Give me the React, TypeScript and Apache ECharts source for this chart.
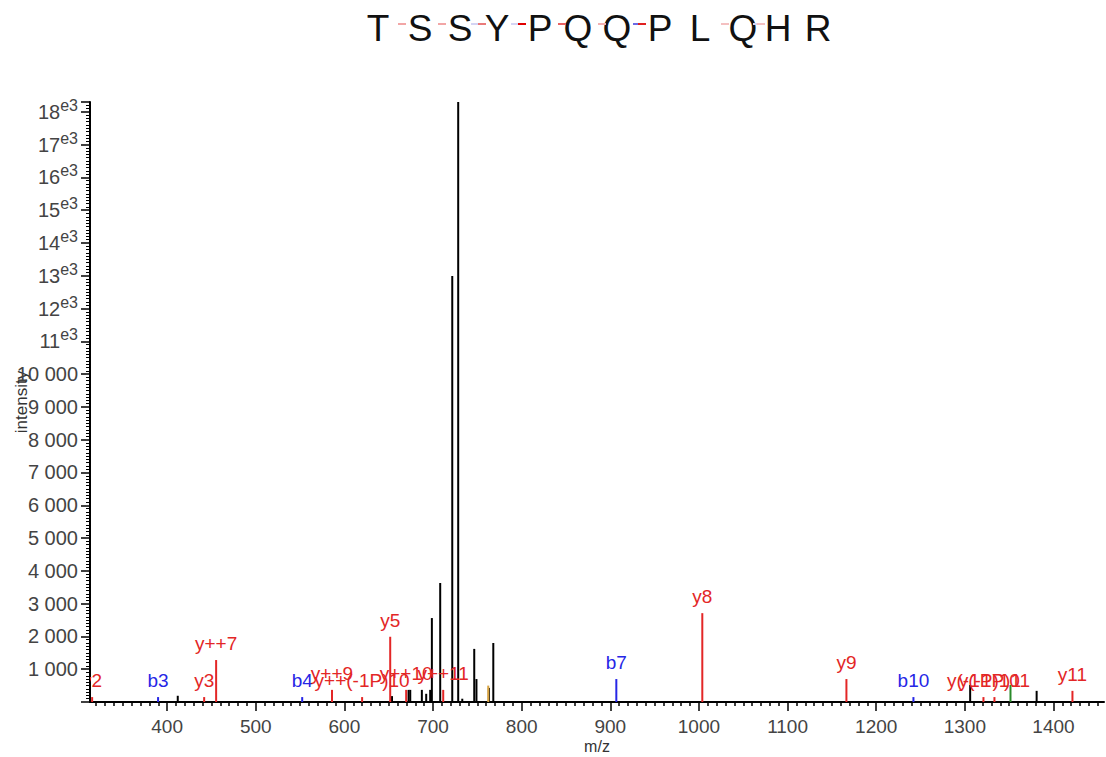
import React, { useEffect, useRef } from "react";
import * as echarts from "echarts";

// ---- data (m/z, intensity) ----
const unlabeledMz = [412, 653.7, 672.4, 674.3, 687.4, 692.3, 696.8, 698.7, 708.1, 721.7, 728.4, 733, 746.5, 749, 763, 768, 1306, 1381];
const unlabeledInt = [190, 180, 370, 370, 370, 250, 370, 2560, 3630, 12990, 18300, 100, 1620, 700, 430, 1800, 520, 340];

const yIonLabels = ["y2", "y3", "y++7", "y++9", "y++(-1P)10", "y5", "y++10", "y++11", "y8", "y9", "y(-1P)10", "y(-1P)11", "y11"];
const yIonMz = [315.4, 441.8, 455.3, 586, 620, 651.7, 669.7, 711.5, 1003.8, 1166.4, 1321, 1333.4, 1421.4];
const yIonInt = [150, 150, 1280, 370, 150, 1990, 370, 370, 2710, 700, 150, 150, 340];

const bIonLabels = ["b3", "b4", "b7", "b10"];
const bIonMz = [389.8, 552.4, 906.8, 1242];
const bIonInt = [150, 150, 700, 150];

const greenMz = [1351.5];
const greenInt = [520];
const orangeMz = [762.3];
const orangeInt = [500];

const sequence = ["T", "S", "S", "Y", "P", "Q", "Q", "P", "L", "Q", "H", "R"];

// axis ticks
const X_MIN = 313;
const X_MAX = 1457;
const xMajorTicks = [400, 500, 600, 700, 800, 900, 1000, 1100, 1200, 1300, 1400];
const xMinorTicks: number[] = [];
for (let v = 320; v < X_MAX; v += 10) if (v % 100 !== 0) xMinorTicks.push(v);

const FONT = "'Liberation Sans', Arial, sans-serif";
const RED = "#e32626";
const BLUE = "#2626e6";
const GREEN = "#2a8a2a";
const ORANGE = "#d9a441";

function fmtThousands(v: number): string {
  const s = String(v);
  return s.replace(/\B(?=(\d{3})+(?!\d))/g, " ");
}

function makeSeries(mz: number[], inten: number[], color: string, labels: string[] | null) {
  return {
    type: "custom",
    clip: true,
    xAxisIndex: 0,
    data: mz.map((m, i) => [m, inten[i]]),
    renderItem: (params: any, api: any) => {
      const x = api.value(0);
      const y = api.value(1);
      const top = api.coord([x, y]);
      const base = api.coord([x, 0]);
      const children: any[] = [
        {
          type: "line",
          shape: { x1: top[0], y1: top[1], x2: base[0], y2: base[1] },
          style: { stroke: color, lineWidth: 2 },
        },
      ];
      if (labels) {
        children.push({
          type: "text",
          x: top[0],
          y: top[1] - 7,
          style: {
            text: labels[params.dataIndex],
            fill: color,
            fontSize: 19,
            fontFamily: FONT,
            align: "center",
            verticalAlign: "bottom",
          },
        });
      }
      return { type: "group", children };
    },
  };
}

// title letter centres and separator marks
const letterX = [378, 420, 460, 497, 540, 578, 617, 660, 700, 743, 778, 818];
const markX = [402, 442, 475, 482, 515, 522, 562, 602, 637, 642, 725, 757, 761];
const markColor = ["#f2a6a6", "#f2a6a6", "#d4d4f4", "#ea7a7a", "#d4d4f4", "#e00000", "#e86060", "#f2b0b0", "#6a6ae6", "#e02020", "#f4c0c0", "#d4d4f4", "#f4c0c0"];

export default function App() {
  const ref = useRef<HTMLDivElement>(null);
  useEffect(() => {
    document.body.style.margin = "0";
    if (!ref.current) return;
    const chart = echarts.init(ref.current, null, { renderer: "svg" });
    const graphics: any[] = [];
    sequence.forEach((ch, i) => {
      graphics.push({
        type: "text",
        x: letterX[i],
        y: 28,
        style: {
          text: ch,
          fill: "#111",
          fontSize: 37,
          fontFamily: FONT,
          align: "center",
          verticalAlign: "middle",
        },
      });
    });
    markX.forEach((mx, i) => {
      graphics.push({
        type: "line",
        shape: { x1: mx - 4, y1: 24, x2: mx + 4, y2: 24 },
        style: { stroke: markColor[i], lineWidth: 2 },
      });
    });
    const tickStyle = { color: "#000", width: 1.5 };
    chart.setOption({
      animation: false,
      backgroundColor: "#fff",
      graphic: graphics,
      grid: { left: 90, right: 2, top: 102, bottom: 55, containLabel: false, outerBoundsMode: "none" },
      xAxis: [
        {
          type: "value",
          min: X_MIN,
          max: X_MAX,
          name: "m/z",
          nameLocation: "middle",
          nameGap: 36,
          nameMoveOverlap: false,
          nameTextStyle: { color: "#333", fontSize: 16, fontFamily: FONT },
          splitLine: { show: false },
          axisLine: { show: true, onZero: false, lineStyle: { color: "#000", width: 2 } },
          axisTick: { show: true, length: 9, lineStyle: tickStyle, customValues: xMajorTicks },
          minorTick: { show: false },
          axisLabel: {
            color: "#444",
            fontSize: 19,
            fontFamily: FONT,
            margin: 15,
            customValues: xMajorTicks,
            formatter: (v: number) => String(v),
          },
        },
        {
          type: "value",
          min: X_MIN,
          max: X_MAX,
          position: "bottom",
          splitLine: { show: false },
          axisLine: { show: false, onZero: false },
          axisTick: { show: true, length: 4, lineStyle: tickStyle, customValues: xMinorTicks },
          axisLabel: { show: false },
        },
      ],
      yAxis: {
        type: "value",
        min: 0,
        max: 18300,
        interval: 1000,
        name: "intensity",
        nameLocation: "middle",
        nameGap: 60,
        nameMoveOverlap: false,
        nameRotate: 90,
        nameTextStyle: { color: "#333", fontSize: 17, fontFamily: FONT },
        splitLine: { show: false },
        axisLine: { show: true, lineStyle: { color: "#000", width: 2 } },
        axisTick: { show: true, length: 9, lineStyle: tickStyle },
        minorTick: { show: true, splitNumber: 10, length: 4, lineStyle: { color: "#000", width: 1 } },
        axisLabel: {
          color: "#444",
          fontSize: 20,
          fontFamily: FONT,
          margin: 12,
          showMaxLabel: false,
          formatter: (v: number) => {
            if (v === 0 || v % 1000 !== 0) return "";
            if (v >= 11000) return `{n|${v / 1000}}{s|e3}`;
            return fmtThousands(v);
          },
          rich: {
            n: { fontSize: 20, fontFamily: FONT, color: "#444" },
            s: { fontSize: 16, fontFamily: FONT, color: "#444", padding: [0, 0, 13, 0] },
          },
        },
      },
      series: [
        makeSeries(unlabeledMz, unlabeledInt, "#000", null),
        makeSeries(orangeMz, orangeInt, ORANGE, null),
        makeSeries(greenMz, greenInt, GREEN, null),
        makeSeries(bIonMz, bIonInt, BLUE, bIonLabels),
        makeSeries(yIonMz, yIonInt, RED, yIonLabels),
      ],
    });
    return () => chart.dispose();
  }, []);
  return <div ref={ref} style={{ width: 1106, height: 757 }} />;
}
